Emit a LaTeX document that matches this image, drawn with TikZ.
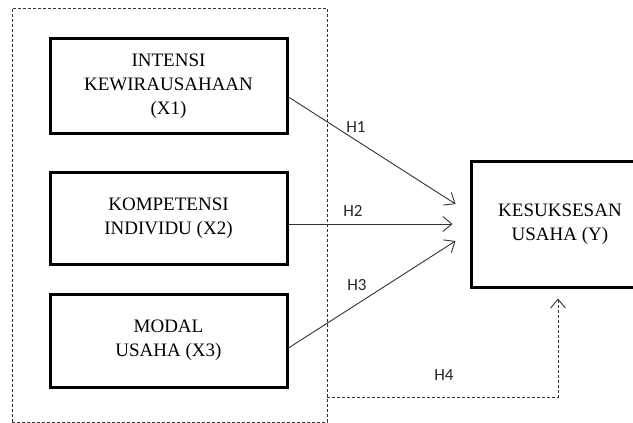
\documentclass[tikz,border=0pt]{standalone}
\usepackage{fontspec}
\setmainfont{Liberation Serif}
\newfontfamily\labelfont{Carlito}
\usetikzlibrary{arrows.meta}
\begin{document}
\begin{tikzpicture}[x=1pt,y=-1pt,
  varbox/.style={draw=black,line width=3pt,rectangle,align=center,inner sep=0pt,
    font=\fontsize{19}{24}\selectfont},
  groupbox/.style={draw=black!80,line width=0.8pt,dash pattern=on 3pt off 2pt,rectangle,inner sep=0pt},
  hyp/.style={draw=black!80,line width=0.9pt,-{Straight Barb[length=9pt,width=15pt,line width=0.9pt]}},
  hypdash/.style={hyp,dash pattern=on 3pt off 2pt},
  hlabel/.style={font=\labelfont\fontsize{17}{20}\selectfont,inner sep=0pt,text=black!85}]
\useasboundingbox (0,0) rectangle (633,423);
\node[groupbox,minimum width=315pt,minimum height=414pt] (outer) at (169.5,215) {};
\node[varbox,minimum width=237pt,minimum height=95pt] (x1) at (168.5,86) {INTENSI\\KEWIRAUSAHAAN\\(X1)};
\node[varbox,minimum width=237pt,minimum height=92pt] (x2) at (168.5,218) {KOMPETENSI\\INDIVIDU (X2)};
\node[varbox,minimum width=237pt,minimum height=93pt] (x3) at (168.5,340.5) {MODAL\\USAHA (X3)};
\node[varbox,minimum width=178pt,minimum height=126pt] (y) at (560,224) {KESUKSESAN\\USAHA (Y)};
\draw[hyp] ([yshift=-11pt]x1.east) -- ([xshift=-14pt,yshift=20pt]y.west);
\draw[hyp] ([yshift=-6pt]x2.east) -- ([xshift=-17pt]y.west);
\draw[hyp] ([yshift=-7.5pt]x3.east) -- ([xshift=-14pt,yshift=-17pt]y.west);
\draw[hypdash] ([yshift=-182pt]outer.east) -| ([xshift=-2pt,yshift=-10pt]y.south);
\node[hlabel] (h1) at (356,127) {H1};
\node[hlabel] (h2) at (353,211) {H2};
\node[hlabel] (h3) at (357,285) {H3};
\node[hlabel] (h4) at (444,375) {H4};
\end{tikzpicture}
\end{document}
